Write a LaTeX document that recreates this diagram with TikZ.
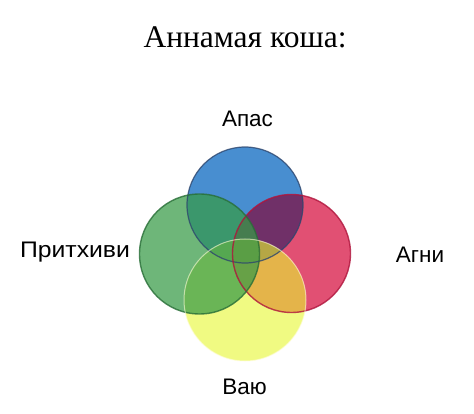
\documentclass[tikz,border=0pt]{standalone}
\usepackage{fontspec}
\setmainfont{Liberation Serif}
\newfontfamily\labelfont{Liberation Sans}
\definecolor{cblue}{RGB}{72,142,208}
\definecolor{cblueline}{RGB}{45,70,110}
\definecolor{cred}{RGB}{225,80,115}
\definecolor{cpurple}{RGB}{112,48,104}
\definecolor{credline}{RGB}{175,20,60}
\definecolor{cyellow}{RGB}{230,247,47}
\definecolor{cgreen}{RGB}{55,155,70}
\definecolor{cgreenline}{RGB}{40,110,55}
\tikzset{
  lbl/.style={font=\labelfont\fontsize{22.5}{26}\selectfont, anchor=base, inner sep=0pt},
  ttl/.style={font=\fontsize{31.5}{36}\selectfont, anchor=base, inner sep=0pt}
}
\begin{document}
\begin{tikzpicture}[x=1pt,y=-1pt]
\useasboundingbox (0,0) rectangle (474,414);
\fill[white] (0,0) rectangle (474,414);
% circles
\fill[cblue] (245,205) circle[radius=58pt];
\fill[cred] (291.5,253.5) circle[radius=59pt];
\begin{scope}
  \clip (245,205) circle[radius=58pt];
  \fill[cpurple] (291.5,253.5) circle[radius=59pt];
\end{scope}
\fill[cyellow, fill opacity=0.6] (245,300) circle[radius=61pt];
\fill[cgreen, fill opacity=0.72] (199.5,254) circle[radius=60pt];
% outlines
\draw[cblueline, line width=1.2pt, draw opacity=0.8] (245,205) circle[radius=58pt];
\draw[credline, line width=1.4pt, draw opacity=0.8] (291.5,253.5) circle[radius=59pt];
\draw[cgreenline, line width=1.4pt, draw opacity=0.8] (199.5,254) circle[radius=60pt];
\draw[white!85!yellow, line width=1pt, draw opacity=0.6] (245,300) circle[radius=61pt];
% texts
\node[ttl] (title) at (245,48) {Аннамая коша:};
\node[lbl] (apas) at (247.5,126.7) {Апас};
\node[lbl, xscale=1.1] (prith) at (75,257.3) {Притхиви};
\node[lbl] (agni) at (420,262.3) {Агни};
\node[lbl] (vayu) at (244.5,394.3) {Ваю};
\end{tikzpicture}
\end{document}
